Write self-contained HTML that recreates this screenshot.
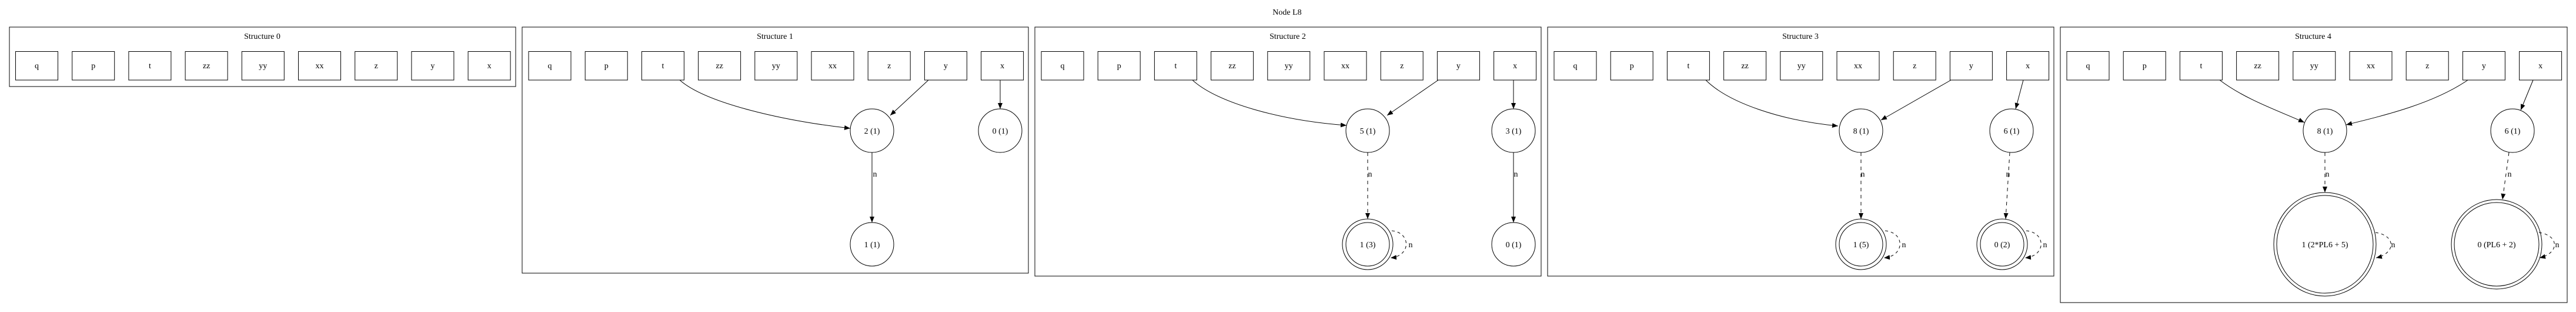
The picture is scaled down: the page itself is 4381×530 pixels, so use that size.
<!DOCTYPE html>
<html><head><meta charset="utf-8"><style>
html,body{margin:0;padding:0;background:#fff;}
svg{display:block;}
text{font-family:"Liberation Serif",serif;font-size:14px;fill:#000;}
.b rect{fill:none;stroke:#000;stroke-width:1;}
</style></head><body>
<svg width="4381" height="530" viewBox="0 0 4381 530" xmlns="http://www.w3.org/2000/svg">
<defs>
<marker id="a" markerWidth="10" markerHeight="8" refX="10" refY="4" orient="auto" markerUnits="userSpaceOnUse">
<path d="M0,0 L10,4 L0,8 z" fill="#000"/></marker>
</defs>
<g fill="none" stroke="#000" stroke-width="1">
<rect x="16" y="46" width="861" height="101"/>
<rect x="888" y="46" width="861" height="418"/>
<rect x="1760" y="46" width="861" height="423"/>
<rect x="2632" y="46" width="861" height="423"/>
<rect x="3504" y="46" width="862" height="468"/>
</g>
<text x="2189" y="25" text-anchor="middle">Node L8</text>
<text x="446" y="66" text-anchor="middle">Structure 0</text>
<text x="1318" y="66" text-anchor="middle">Structure 1</text>
<text x="2190" y="66" text-anchor="middle">Structure 2</text>
<text x="3062" y="66" text-anchor="middle">Structure 3</text>
<text x="3934" y="66" text-anchor="middle">Structure 4</text>

<g class="b" text-anchor="middle" transform="translate(26.5,0)">
<rect x="0" y="87.5" width="72" height="48.5"/><text x="36" y="116">q</text>
<rect x="96.2" y="87.5" width="72" height="48.5"/><text x="132.2" y="116">p</text>
<rect x="192.4" y="87.5" width="72" height="48.5"/><text x="228.4" y="116">t</text>
<rect x="288.6" y="87.5" width="72" height="48.5"/><text x="324.6" y="116">zz</text>
<rect x="384.8" y="87.5" width="72" height="48.5"/><text x="420.8" y="116">yy</text>
<rect x="481" y="87.5" width="72" height="48.5"/><text x="517" y="116">xx</text>
<rect x="577.2" y="87.5" width="72" height="48.5"/><text x="613.2" y="116">z</text>
<rect x="673.4" y="87.5" width="72" height="48.5"/><text x="709.4" y="116">y</text>
<rect x="769.6" y="87.5" width="72" height="48.5"/><text x="805.6" y="116">x</text>
</g>
<g class="b" text-anchor="middle" transform="translate(899,0)">
<rect x="0" y="87.5" width="72" height="48.5"/><text x="36" y="116">q</text>
<rect x="96.2" y="87.5" width="72" height="48.5"/><text x="132.2" y="116">p</text>
<rect x="192.4" y="87.5" width="72" height="48.5"/><text x="228.4" y="116">t</text>
<rect x="288.6" y="87.5" width="72" height="48.5"/><text x="324.6" y="116">zz</text>
<rect x="384.8" y="87.5" width="72" height="48.5"/><text x="420.8" y="116">yy</text>
<rect x="481" y="87.5" width="72" height="48.5"/><text x="517" y="116">xx</text>
<rect x="577.2" y="87.5" width="72" height="48.5"/><text x="613.2" y="116">z</text>
<rect x="673.4" y="87.5" width="72" height="48.5"/><text x="709.4" y="116">y</text>
<rect x="769.6" y="87.5" width="72" height="48.5"/><text x="805.6" y="116">x</text>
</g>
<g class="b" text-anchor="middle" transform="translate(1771,0)">
<rect x="0" y="87.5" width="72" height="48.5"/><text x="36" y="116">q</text>
<rect x="96.2" y="87.5" width="72" height="48.5"/><text x="132.2" y="116">p</text>
<rect x="192.4" y="87.5" width="72" height="48.5"/><text x="228.4" y="116">t</text>
<rect x="288.6" y="87.5" width="72" height="48.5"/><text x="324.6" y="116">zz</text>
<rect x="384.8" y="87.5" width="72" height="48.5"/><text x="420.8" y="116">yy</text>
<rect x="481" y="87.5" width="72" height="48.5"/><text x="517" y="116">xx</text>
<rect x="577.2" y="87.5" width="72" height="48.5"/><text x="613.2" y="116">z</text>
<rect x="673.4" y="87.5" width="72" height="48.5"/><text x="709.4" y="116">y</text>
<rect x="769.6" y="87.5" width="72" height="48.5"/><text x="805.6" y="116">x</text>
</g>
<g class="b" text-anchor="middle" transform="translate(2643,0)">
<rect x="0" y="87.5" width="72" height="48.5"/><text x="36" y="116">q</text>
<rect x="96.2" y="87.5" width="72" height="48.5"/><text x="132.2" y="116">p</text>
<rect x="192.4" y="87.5" width="72" height="48.5"/><text x="228.4" y="116">t</text>
<rect x="288.6" y="87.5" width="72" height="48.5"/><text x="324.6" y="116">zz</text>
<rect x="384.8" y="87.5" width="72" height="48.5"/><text x="420.8" y="116">yy</text>
<rect x="481" y="87.5" width="72" height="48.5"/><text x="517" y="116">xx</text>
<rect x="577.2" y="87.5" width="72" height="48.5"/><text x="613.2" y="116">z</text>
<rect x="673.4" y="87.5" width="72" height="48.5"/><text x="709.4" y="116">y</text>
<rect x="769.6" y="87.5" width="72" height="48.5"/><text x="805.6" y="116">x</text>
</g>
<g class="b" text-anchor="middle" transform="translate(3515,0)">
<rect x="0" y="87.5" width="72" height="48.5"/><text x="36" y="116">q</text>
<rect x="96.2" y="87.5" width="72" height="48.5"/><text x="132.2" y="116">p</text>
<rect x="192.4" y="87.5" width="72" height="48.5"/><text x="228.4" y="116">t</text>
<rect x="288.6" y="87.5" width="72" height="48.5"/><text x="324.6" y="116">zz</text>
<rect x="384.8" y="87.5" width="72" height="48.5"/><text x="420.8" y="116">yy</text>
<rect x="481" y="87.5" width="72" height="48.5"/><text x="517" y="116">xx</text>
<rect x="577.2" y="87.5" width="72" height="48.5"/><text x="613.2" y="116">z</text>
<rect x="673.4" y="87.5" width="72" height="48.5"/><text x="709.4" y="116">y</text>
<rect x="769.6" y="87.5" width="72" height="48.5"/><text x="805.6" y="116">x</text>
</g>

<g fill="none" stroke="#000" stroke-width="1">
<!-- S1 -->
<ellipse cx="1483" cy="222" rx="37" ry="37"/>
<ellipse cx="1701" cy="222" rx="37" ry="37"/>
<ellipse cx="1483" cy="415" rx="37" ry="37"/>
<path d="M1156,136 C1200,175 1330,205 1446,218" marker-end="url(#a)"/>
<path d="M1579,136 L1514,196" marker-end="url(#a)"/>
<path d="M1701,136 L1701,185" marker-end="url(#a)"/>
<path d="M1483,259 L1483,378" marker-end="url(#a)"/>
<!-- S2 -->
<ellipse cx="2326" cy="222" rx="37" ry="37"/>
<ellipse cx="2574" cy="222" rx="37" ry="37"/>
<ellipse cx="2326" cy="415" rx="37" ry="37"/>
<ellipse cx="2326" cy="415" rx="43" ry="43"/>
<ellipse cx="2574" cy="415" rx="37" ry="37"/>
<path d="M2028,136 C2070,175 2180,205 2290,213" marker-end="url(#a)"/>
<path d="M2446,136 L2359,196" marker-end="url(#a)"/>
<path d="M2574,136 L2574,185" marker-end="url(#a)"/>
<path d="M2574,259 L2574,378" marker-end="url(#a)"/>
<path d="M2326,259 L2326,372" stroke-dasharray="6,6" marker-end="url(#a)"/>
<path d="M2367,392 C2400,395 2400,435 2365,438" stroke-dasharray="5,5" marker-end="url(#a)"/>
<!-- S3 -->
<ellipse cx="3165" cy="222" rx="37" ry="37"/>
<ellipse cx="3421" cy="222" rx="37" ry="37"/>
<ellipse cx="3165" cy="415" rx="37" ry="37"/>
<ellipse cx="3165" cy="415" rx="43" ry="43"/>
<ellipse cx="3405" cy="415" rx="37" ry="37"/>
<ellipse cx="3405" cy="415" rx="43" ry="43"/>
<path d="M2901,136 C2940,175 3030,205 3126,214" marker-end="url(#a)"/>
<path d="M3318,136 L3199,204" marker-end="url(#a)"/>
<path d="M3441,136 L3428,185" marker-end="url(#a)"/>
<path d="M3165,259 L3165,372" stroke-dasharray="6,6" marker-end="url(#a)"/>
<path d="M3418,259 L3411,372" stroke-dasharray="6,6" marker-end="url(#a)"/>
<path d="M3206,392 C3240,395 3240,435 3204,438" stroke-dasharray="5,5" marker-end="url(#a)"/>
<path d="M3446,392 C3480,395 3480,435 3444,438" stroke-dasharray="5,5" marker-end="url(#a)"/>
<!-- S4 -->
<ellipse cx="3954" cy="222" rx="37" ry="37"/>
<ellipse cx="4273" cy="222" rx="37" ry="37"/>
<ellipse cx="3954" cy="415" rx="82" ry="83"/>
<ellipse cx="3954" cy="415" rx="87" ry="88"/>
<ellipse cx="4246" cy="415" rx="72" ry="71"/>
<ellipse cx="4246" cy="415" rx="77" ry="76"/>
<path d="M3775,136 C3820,170 3880,190 3919,208" marker-end="url(#a)"/>
<path d="M4197,136 C4140,175 4060,195 3990,212" marker-end="url(#a)"/>
<path d="M4308,136 L4287,187" marker-end="url(#a)"/>
<path d="M3954,259 L3954,327" stroke-dasharray="6,6" marker-end="url(#a)"/>
<path d="M4267,259 L4256,339" stroke-dasharray="6,6" marker-end="url(#a)"/>
<path d="M4040,395 C4075,400 4075,430 4041,438" stroke-dasharray="5,5" marker-end="url(#a)"/>
<path d="M4318,395 C4353,400 4353,430 4319,438" stroke-dasharray="5,5" marker-end="url(#a)"/>
</g>
<g text-anchor="middle">
<text x="1483" y="227">2 (1)</text>
<text x="1701" y="227">0 (1)</text>
<text x="1483" y="420">1 (1)</text>
<text x="1488" y="300">n</text>
<text x="2326" y="227">5 (1)</text>
<text x="2574" y="227">3 (1)</text>
<text x="2326" y="420">1 (3)</text>
<text x="2574" y="420">0 (1)</text>
<text x="2330" y="300">n</text>
<text x="2578" y="300">n</text>
<text x="2399" y="420">n</text>
<text x="3165" y="227">8 (1)</text>
<text x="3421" y="227">6 (1)</text>
<text x="3165" y="420">1 (5)</text>
<text x="3405" y="420">0 (2)</text>
<text x="3168" y="300">n</text>
<text x="3415" y="300">n</text>
<text x="3238" y="420">n</text>
<text x="3478" y="420">n</text>
<text x="3954" y="227">8 (1)</text>
<text x="4273" y="227">6 (1)</text>
<text x="3954" y="420">1 (2*PL6 + 5)</text>
<text x="4246" y="420">0 (PL6 + 2)</text>
<text x="3958" y="300">n</text>
<text x="4268" y="300">n</text>
<text x="4070" y="420">n</text>
<text x="4349" y="420">n</text>
</g>
</svg>
</body></html>
